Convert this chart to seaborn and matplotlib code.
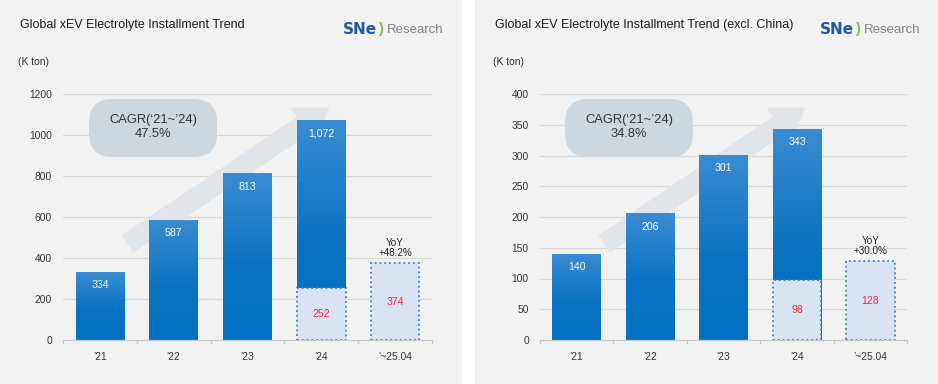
import numpy as np
import pandas as pd
import matplotlib
matplotlib.use("Agg")
import matplotlib.pyplot as plt
import seaborn as sns
from matplotlib.patches import Rectangle, FancyBboxPatch, FancyArrowPatch, ArrowStyle
from matplotlib.colors import LinearSegmentedColormap
from matplotlib.ticker import FixedLocator

# ---------------- data ----------------
categories = ["\u201921", "\u201922", "\u201923", "\u201924", "\u2019~25.04"]
bar_categories = ["\u201921", "\u201922", "\u201923", "\u201924"]
partial_categories = ["\u201924", "\u2019~25.04"]

global_values = [334, 587, 813, 1072]
global_partial = [252, 374]
global_ticks = [0, 200, 400, 600, 800, 1000, 1200]
global_labels = ["334", "587", "813", "1,072"]
global_cagr = "47.5%"
global_yoy = "+48.2%"
global_title = "Global xEV Electrolyte Installment Trend"

exchina_values = [140, 206, 301, 343]
exchina_partial = [98, 128]
exchina_ticks = [0, 50, 100, 150, 200, 250, 300, 350, 400]
exchina_labels = ["140", "206", "301", "343"]
exchina_cagr = "34.8%"
exchina_yoy = "+30.0%"
exchina_title = "Global xEV Electrolyte Installment Trend (excl. China)"

# ---------------- style ----------------
plt.rcParams["font.family"] = ["Liberation Sans", "DejaVu Sans"]
W, H = 938, 384
fig = plt.figure(figsize=(W / 100, H / 100), dpi=100)
fig.patch.set_facecolor("white")


def fx(x):
    return x / W


def fy(y):
    return 1 - y / H


# panel backgrounds
fig.patches.append(Rectangle((0, 0), fx(462), 1, transform=fig.transFigure,
                             facecolor="#f2f2f2", edgecolor="none", zorder=-10))
fig.patches.append(Rectangle((fx(475), 0), 1 - fx(475), 1, transform=fig.transFigure,
                             facecolor="#f2f2f2", edgecolor="none", zorder=-10))

grad_cmap = LinearSegmentedColormap.from_list(
    "bar", [(0, "#0070c0"), (0.45, "#0a72c2"), (1, "#3a8cd2")])


def panel(left_px, width_px, title, values, partial, labels, ticks, cagr, yoy, x0):
    ax = fig.add_axes([fx(left_px), 44 / H, width_px / W, 246 / H])
    ax.set_facecolor("none")
    ymax = ticks[-1]

    # arrow behind bars
    arr = FancyArrowPatch((0.175, 0.39), (0.722, 0.945), transform=ax.transAxes,
                          arrowstyle=ArrowStyle("Simple", head_length=2.3,
                                                head_width=3.1, tail_width=1.5),
                          mutation_scale=10, shrinkA=0, shrinkB=0,
                          facecolor="#e0e5e9", edgecolor="none",
                          zorder=1, clip_on=False)
    ax.add_patch(arr)

    df = pd.DataFrame({"cat": bar_categories, "val": values})
    n0 = len(ax.patches)
    sns.barplot(data=df, x="cat", y="val", order=categories, color="#0070c0",
                saturation=1, width=0.66, ax=ax, zorder=2, edgecolor="none")
    main = ax.patches[n0:]
    grad = np.linspace(0, 1, 256).reshape(-1, 1)
    for p in main:
        x_ = p.get_x()
        w_ = p.get_width()
        h_ = p.get_height()
        im = ax.imshow(grad, cmap=grad_cmap, extent=[x_, x_ + w_, 0, h_],
                       origin="lower", aspect="auto", zorder=2.1,
                       interpolation="bilinear")
        im.set_clip_path(p)

    dfp = pd.DataFrame({"cat": partial_categories, "val": partial})
    n1 = len(ax.patches)
    sns.barplot(data=dfp, x="cat", y="val", order=categories, color="#dae3f3",
                saturation=1, width=0.66, ax=ax, edgecolor="#3a7cc4",
                linewidth=1.3, linestyle=":", zorder=3)
    for p in ax.patches[n1:]:
        p.set_zorder(3)

    # labels
    for i, (v, lab) in enumerate(zip(values, labels)):
        ax.annotate(lab, (i, v), xytext=(0, -9.5), textcoords="offset points",
                    ha="center", va="center", color="white", fontsize=7.6, zorder=5)
    for c, v in zip(partial_categories, partial):
        i = categories.index(c)
        ax.text(i, v / 2, str(v), ha="center", va="center", color="#e8283c",
                fontsize=7.6, zorder=5)
    ax.annotate("YoY\n" + yoy, (categories.index(partial_categories[-1]), partial[-1]),
                xytext=(0, 3.5), textcoords="offset points", ha="center",
                va="bottom", fontsize=7.1, color="#222222", linespacing=1.05, zorder=5)

    ax.set_xlim(-0.5, 4.5)
    ax.set_ylim(0, ymax)
    ax.set_yticks(ticks)
    ax.set_yticklabels([str(t) for t in ticks])
    ax.set_xlabel("")
    ax.set_ylabel("")
    ax.yaxis.grid(True, color="#d9d9d9", linewidth=0.9, zorder=0)
    ax.set_axisbelow(True)
    for s in ["top", "right", "left"]:
        ax.spines[s].set_visible(False)
    ax.spines["bottom"].set_color("#c8c8c8")
    ax.spines["bottom"].set_linewidth(0.9)
    ax.spines["bottom"].set_zorder(4)
    ax.tick_params(axis="y", length=0, pad=8, labelsize=7.4, labelcolor="#333333")
    ax.tick_params(axis="x", which="major", length=0, pad=9, labelsize=7.4,
                   labelcolor="#333333")
    ax.xaxis.set_minor_locator(FixedLocator([-0.5, 0.5, 1.5, 2.5, 3.5, 4.5]))
    ax.tick_params(axis="x", which="minor", length=3, color="#c8c8c8", width=0.9)

    # CAGR box
    bx0, by0, bx1, by1 = x0 + 26, 99, x0 + 154, 157
    box = FancyBboxPatch((fx(bx0), fy(by1)), fx(bx1 - bx0), (by1 - by0) / H,
                         boxstyle="round,pad=0,rounding_size=0.025",
                         transform=fig.transFigure, facecolor="#cdd7dd",
                         edgecolor="none", zorder=6, mutation_aspect=W / H)
    fig.patches.append(box)
    fig.text(fx((bx0 + bx1) / 2), fy(127), "CAGR(\u201821~\u201924)\n" + cagr,
             ha="center", va="center", fontsize=9.3, color="#333333",
             linespacing=1.15, zorder=7)
    return ax


def header(x_title, title, x_logo):
    fig.text(fx(x_title), fy(25), title, ha="left", va="center", fontsize=9,
             color="#1a1a1a")
    fig.text(fx(x_title - 2), fy(62), "(K ton)", ha="left", va="center",
             fontsize=7.5, color="#333333")
    fig.text(fx(x_logo), fy(30), "SNe", ha="left", va="center", fontsize=11,
             fontweight="bold", color="#1f57a8", family=["DejaVu Sans"])
    fig.text(fx(x_logo + 35), fy(29), ")", ha="left", va="center", fontsize=10.5,
             fontweight="bold", color="#7cc242")
    fig.text(fx(x_logo + 44), fy(30), "Research", ha="left", va="center",
             fontsize=9.5, color="#7a838b")


panel(63, 369, global_title, global_values, global_partial, global_labels,
      global_ticks, global_cagr, global_yoy, 63)
header(20, global_title, 343)
panel(540, 367, exchina_title, exchina_values, exchina_partial, exchina_labels,
      exchina_ticks, exchina_cagr, exchina_yoy, 539)
header(495, exchina_title, 820)

fig.savefig("out.png", dpi=100, facecolor=fig.get_facecolor())
